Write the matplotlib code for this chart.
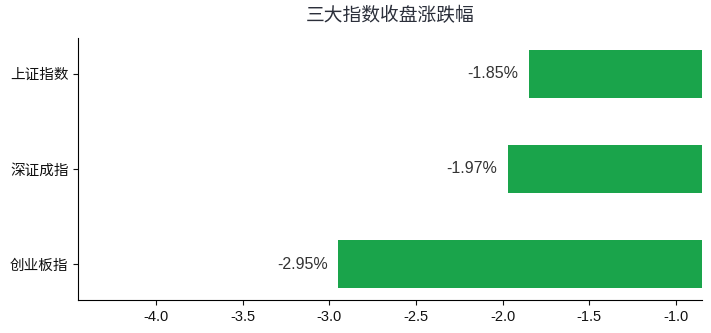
import matplotlib.pyplot as plt

plt.rcParams['font.family'] = ['Liberation Sans', 'Noto Sans CJK SC', 'DejaVu Sans']
plt.rcParams['axes.unicode_minus'] = False

names = ['上证指数', '深证成指', '创业板指']
changes = [-1.85, -1.97, -2.95]
title = '三大指数收盘涨跌幅'

fig, ax = plt.subplots(figsize=(7.11, 3.33), dpi=100)
fig.subplots_adjust(left=0.110, right=0.987, top=0.886, bottom=0.099)

pos = list(range(len(names)))[::-1]
ax.barh(pos, changes, height=0.5, color='#1aa44b')

for p, v in zip(pos, changes):
    ax.text(v - 0.06, p, f'{v:.2f}%', ha='right', va='center', fontsize=11.5, color='#333333')

ax.set_yticks(pos)
ax.set_yticklabels(names)
ax.set_xlim(-4.45, -0.85)
ax.set_xticks([-4.0, -3.5, -3.0, -2.5, -2.0, -1.5, -1.0])
ax.tick_params(axis='both', labelsize=10.5, colors='#111111')
ax.spines['top'].set_visible(False)
ax.spines['right'].set_visible(False)
ax.set_title(title, fontsize=13.5, color='#2b2f3a', pad=12)

plt.savefig('out.png', dpi=100)
